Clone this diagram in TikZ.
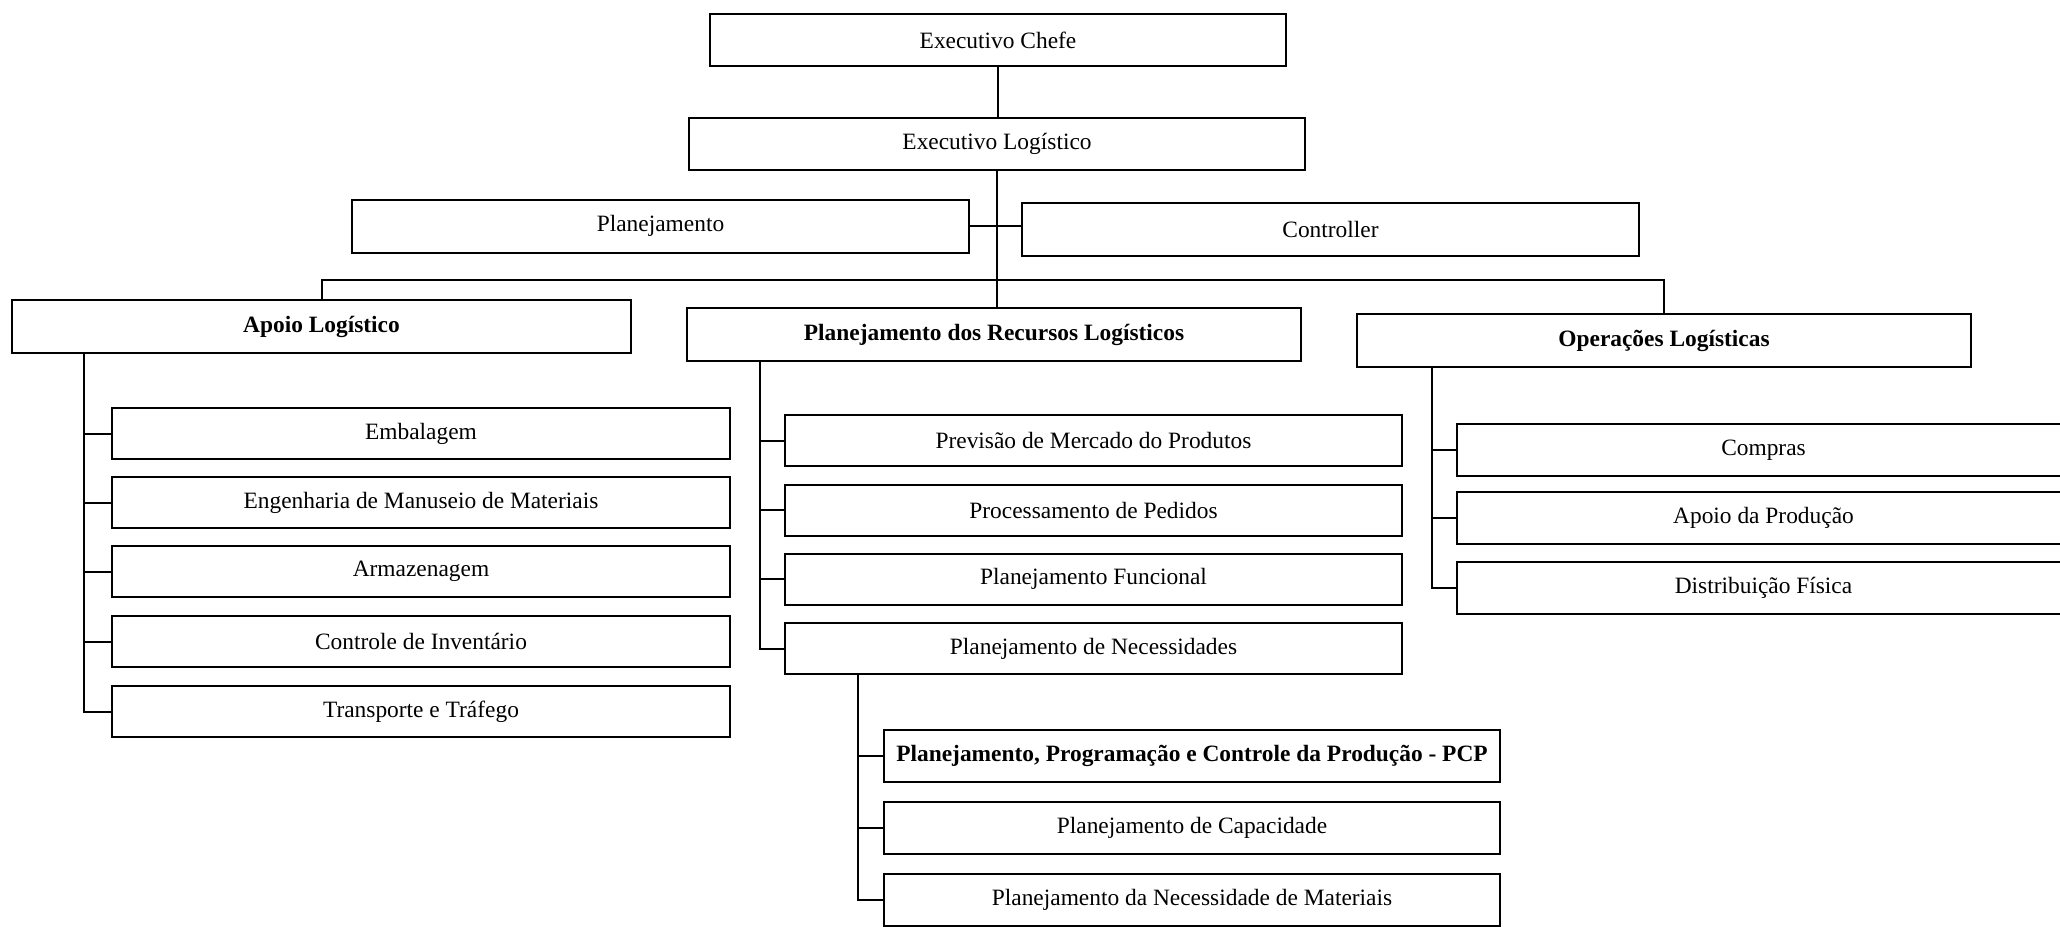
\documentclass[tikz,border=0pt]{standalone}
\usepackage{fontspec}
\setmainfont{Liberation Serif}
\begin{document}
\begin{tikzpicture}[x=0.5pt,y=-0.5pt,
  unit/.style={draw=black, line width=1pt, fill=white, inner sep=0pt,
    font=\fontsize{11.7}{14}\selectfont, align=center},
  head/.style={unit, font=\fontsize{11.7}{14}\selectfont\bfseries},
  link/.style={line width=1pt, line cap=rect}]
\useasboundingbox (0,0) rectangle (2060,926);
\clip (0,0) rectangle (2060,926);

% top of the hierarchy
\node[unit, minimum width=288pt, minimum height=26pt] (chefe) at (998,40) {Executivo Chefe};
\node[unit, minimum width=308pt, minimum height=26pt] (exlog) at (997,144) {Executivo Logístico};
\node[unit, minimum width=308.5pt, minimum height=26.5pt] (plan) at (660.5,226) {Planejamento};
\node[unit, minimum width=308.5pt, minimum height=26.5pt] (ctrl) at (1330.5,229) {Controller};

% the three main areas
\node[head, minimum width=309.5pt, minimum height=26.5pt] (apoio) at (321.5,326.5) {Apoio Logístico};
\node[head, minimum width=307pt, minimum height=26.5pt] (prl) at (994,334.5) {Planejamento dos Recursos Logísticos};
\node[head, minimum width=307pt, minimum height=26.5pt] (ops) at (1664,340.5) {Operações Logísticas};

% Apoio Logistico
\node[unit, minimum width=309pt, minimum height=25.5pt] (emb) at (421,433.5) {Embalagem};
\node[unit, minimum width=309pt, minimum height=25.5pt] (eng) at (421,502.5) {Engenharia de Manuseio de Materiais};
\node[unit, minimum width=309pt, minimum height=25.5pt] (arm) at (421,571.5) {Armazenagem};
\node[unit, minimum width=309pt, minimum height=25.5pt] (inv) at (421,641.5) {Controle de Inventário};
\node[unit, minimum width=309pt, minimum height=25.5pt] (tra) at (421,711.5) {Transporte e Tráfego};

% Planejamento dos Recursos Logisticos
\node[unit, minimum width=308.5pt, minimum height=25.5pt] (prev) at (1093.5,440.5) {Previsão de Mercado do Produtos};
\node[unit, minimum width=308.5pt, minimum height=25.5pt] (proc) at (1093.5,510) {Processamento de Pedidos};
\node[unit, minimum width=308.5pt, minimum height=25.5pt] (func) at (1093.5,579) {Planejamento Funcional};
\node[unit, minimum width=308.5pt, minimum height=25.5pt] (nec) at (1093.5,648.5) {Planejamento de Necessidades};

% Planejamento de Necessidades
\node[head, minimum width=308pt, minimum height=26pt] (pcp) at (1192,756) {Planejamento, Programação e Controle da Produção - PCP};
\node[unit, minimum width=308pt, minimum height=26pt] (cap) at (1192,828) {Planejamento de Capacidade};
\node[unit, minimum width=308pt, minimum height=26pt] (mat) at (1192,899.5) {Planejamento da Necessidade de Materiais};

% Operacoes Logisticas
\node[unit, minimum width=306.5pt, minimum height=26pt] (com) at (1763.5,450) {Compras};
\node[unit, minimum width=306.5pt, minimum height=26pt] (prod) at (1763.5,518) {Apoio da Produção};
\node[unit, minimum width=306.5pt, minimum height=26pt] (dist) at (1763.5,588) {Distribuição Física};

% trunk positions and the distribution bar
\coordinate (bar) at (0,280);
\coordinate (tA) at (84,0);
\coordinate (tP) at (760,0);
\coordinate (tN) at (858,0);
\coordinate (tO) at (1432,0);

% upper connectors
\draw[link] (chefe.south) -- (chefe.south |- exlog.north);
\draw[link] (exlog.south) -- (exlog.south |- prl.north);
\draw[link] (plan.east) -- (plan.east -| ctrl.west);
\draw[link] (apoio.north) -- (apoio.north |- bar) -- (ops.north |- bar) -- (ops.north);

% Apoio Logistico branch
\draw[link] (apoio.south -| tA) |- (tra.west);
\draw[link] (tA |- emb.west) -- (emb.west);
\draw[link] (tA |- eng.west) -- (eng.west);
\draw[link] (tA |- arm.west) -- (arm.west);
\draw[link] (tA |- inv.west) -- (inv.west);

% Planejamento dos Recursos Logisticos branch
\draw[link] (prl.south -| tP) |- (nec.west);
\draw[link] (tP |- prev.west) -- (prev.west);
\draw[link] (tP |- proc.west) -- (proc.west);
\draw[link] (tP |- func.west) -- (func.west);

% Planejamento de Necessidades branch
\draw[link] (nec.south -| tN) |- (mat.west);
\draw[link] (tN |- pcp.west) -- (pcp.west);
\draw[link] (tN |- cap.west) -- (cap.west);

% Operacoes Logisticas branch
\draw[link] (ops.south -| tO) |- (dist.west);
\draw[link] (tO |- com.west) -- (com.west);
\draw[link] (tO |- prod.west) -- (prod.west);
\end{tikzpicture}
\end{document}
